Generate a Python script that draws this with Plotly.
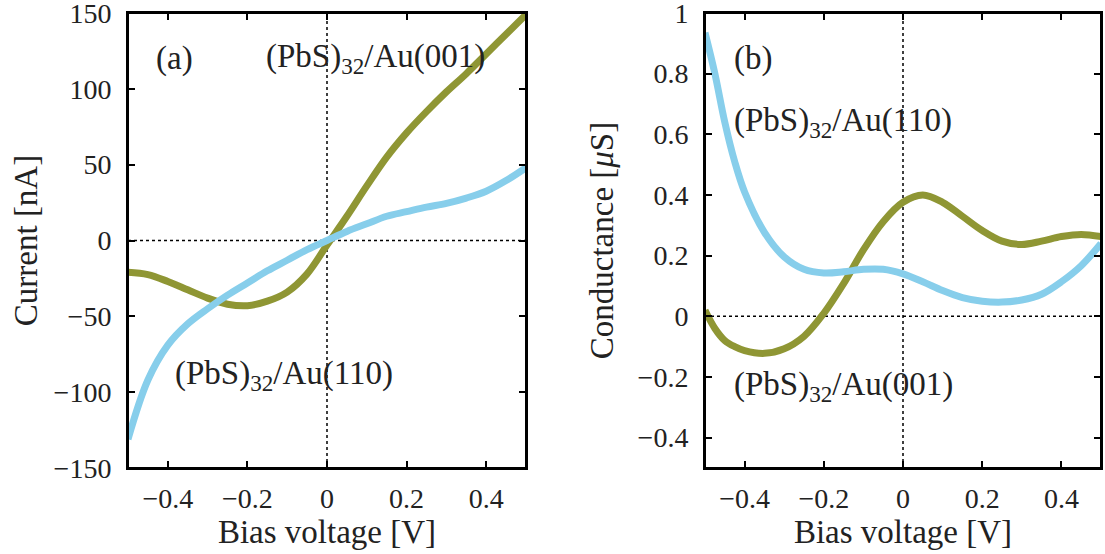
import plotly.graph_objects as go

# ---- data ----
bias = [-0.5, -0.45, -0.4, -0.35, -0.3, -0.25, -0.2, -0.15, -0.1, -0.05, 0.0,
        0.05, 0.1, 0.15, 0.2, 0.25, 0.3, 0.35, 0.4, 0.45, 0.5]

current_001 = [-21, -22.5, -27, -32.5, -38, -42, -43, -40, -34, -22, -3,
               16, 36, 55, 71, 85, 98, 110, 123, 136, 149]
current_110 = [-131, -92, -69, -55, -45, -36, -28, -20, -13, -6, 0,
               6, 11, 16, 19, 22, 24.5, 28, 32.5, 39.5, 48]

bias_g = [-0.5, -0.475, -0.45, -0.425, -0.4, -0.35, -0.3, -0.25, -0.2, -0.15, -0.1,
          -0.05, 0.0, 0.05, 0.1, 0.15, 0.2, 0.25, 0.3, 0.35, 0.4, 0.45, 0.5]
cond_001 = [0.02, -0.04, -0.08, -0.10, -0.113, -0.122, -0.107, -0.066, 0.01, 0.108, 0.219,
            0.312, 0.376, 0.40, 0.376, 0.33, 0.283, 0.248, 0.237, 0.248, 0.263, 0.27, 0.263]
cond_110 = [0.935, 0.80, 0.64, 0.51, 0.41, 0.277, 0.196, 0.155, 0.143, 0.147, 0.155,
            0.155, 0.14, 0.114, 0.085, 0.062, 0.05, 0.047, 0.054, 0.073, 0.114, 0.167, 0.24]

x_range = [-0.5, 0.5]
current_range = [-150, 150]
cond_range = [-0.5, 1.0]

OLIVE = "#8f9634"
BLUE = "#87ceeb"
FONT = "Liberation Serif"
TXT = "#222222"

W, H = 1105, 554


def fx(px):
    return px / W


def fy(py):
    return (H - py) / H


fig = go.Figure()
fig.add_trace(go.Scatter(x=bias, y=current_001, mode="lines", line=dict(color=OLIVE, width=7, shape="spline"),
                         xaxis="x", yaxis="y", showlegend=False))
fig.add_trace(go.Scatter(x=bias, y=current_110, mode="lines", line=dict(color=BLUE, width=7, shape="spline"),
                         xaxis="x", yaxis="y", showlegend=False))
fig.add_trace(go.Scatter(x=bias_g, y=cond_001, mode="lines", line=dict(color=OLIVE, width=7, shape="spline"),
                         xaxis="x2", yaxis="y2", showlegend=False))
fig.add_trace(go.Scatter(x=bias_g, y=cond_110, mode="lines", line=dict(color=BLUE, width=7, shape="spline"),
                         xaxis="x2", yaxis="y2", showlegend=False))

ydom = [fy(468), fy(13)]
xdom1 = [fx(128), fx(526)]
xdom2 = [fx(705), fx(1101)]
tick_common = dict(ticks="inside", ticklen=7, tickwidth=1.5, tickcolor="black",
                   showgrid=False, zeroline=False, automargin=False)
axis_common = dict(showline=True, linecolor="black", linewidth=2, mirror="ticks",
                   ticklabeloverflow="allow",
                   tickfont=dict(family=FONT, size=28, color=TXT), **tick_common)
mirror_common = dict(showline=False, showticklabels=False, **tick_common)
title_font = dict(family=FONT, size=33, color=TXT)

fig.update_layout(
    width=W, height=H,
    margin=dict(l=0, r=0, t=0, b=0),
    paper_bgcolor="white", plot_bgcolor="white",
    xaxis=dict(domain=xdom1, range=x_range, tick0=0, dtick=0.2,
               anchor="y", ticklabelstandoff=4,
               title=dict(text="Bias voltage [V]", standoff=2, font=title_font), **axis_common),
    yaxis=dict(domain=ydom, range=current_range, dtick=50, anchor="x", ticklabelstandoff=9,
               title=dict(text="Current [nA]", standoff=6, font=title_font), **axis_common),
    xaxis2=dict(domain=xdom2, range=x_range, tick0=0, dtick=0.2,
                anchor="y2", ticklabelstandoff=4,
                title=dict(text="Bias voltage [V]", standoff=2, font=title_font), **axis_common),
    yaxis2=dict(domain=ydom, range=cond_range, dtick=0.2, anchor="x2", ticklabelstandoff=9,
                title=dict(text="Conductance [<i>μ</i>S]", standoff=14, font=title_font), **axis_common),
    # tick marks on the top and right edges of each frame
    xaxis3=dict(overlaying="x", anchor="y", side="top", range=x_range, tick0=0, dtick=0.2, **mirror_common),
    yaxis3=dict(overlaying="y", anchor="x", side="right", range=current_range, dtick=50, **mirror_common),
    xaxis4=dict(overlaying="x2", anchor="y2", side="top", range=x_range, tick0=0, dtick=0.2, **mirror_common),
    yaxis4=dict(overlaying="y2", anchor="x2", side="right", range=cond_range, dtick=0.2, **mirror_common),
)

# dotted reference lines at zero, and the plot frames
for xr, yr in (("x", "y"), ("x2", "y2")):
    fig.add_shape(type="line", xref=xr, yref=yr + " domain", x0=0, x1=0, y0=0, y1=1,
                  line=dict(color="black", width=1.5, dash="dot"), layer="below")
    fig.add_shape(type="line", xref=xr + " domain", yref=yr, x0=0, x1=1, y0=0, y1=0,
                  line=dict(color="black", width=1.5, dash="dot"), layer="below")
    fig.add_shape(type="rect", xref=xr + " domain", yref=yr + " domain", x0=0, x1=1, y0=0, y1=1,
                  line=dict(color="black", width=2), fillcolor="rgba(0,0,0,0)", layer="above")

ann_font = dict(family=FONT, size=33, color=TXT)
labels = [
    ("x", "y", -0.383, 120, "(a)"),
    ("x", "y", 0.122, 120, "(PbS)<sub>32</sub>/Au(001)"),
    ("x", "y", -0.108, -89, "(PbS)<sub>32</sub>/Au(110)"),
    ("x2", "y2", -0.378, 0.85, "(b)"),
    ("x2", "y2", -0.151, 0.64, "(PbS)<sub>32</sub>/Au(110)"),
    ("x2", "y2", -0.151, -0.23, "(PbS)<sub>32</sub>/Au(001)"),
]
for xr, yr, xv, yv, txt in labels:
    fig.add_annotation(xref=xr, yref=yr, x=xv, y=yv, text=txt, showarrow=False,
                       font=ann_font, xanchor="center", yanchor="middle")

# remove the browser's default 8px body margin so the figure sits at the window origin
fig.write_html("out.html", config={"displayModeBar": False},
               post_script="document.body.style.margin='0';")
